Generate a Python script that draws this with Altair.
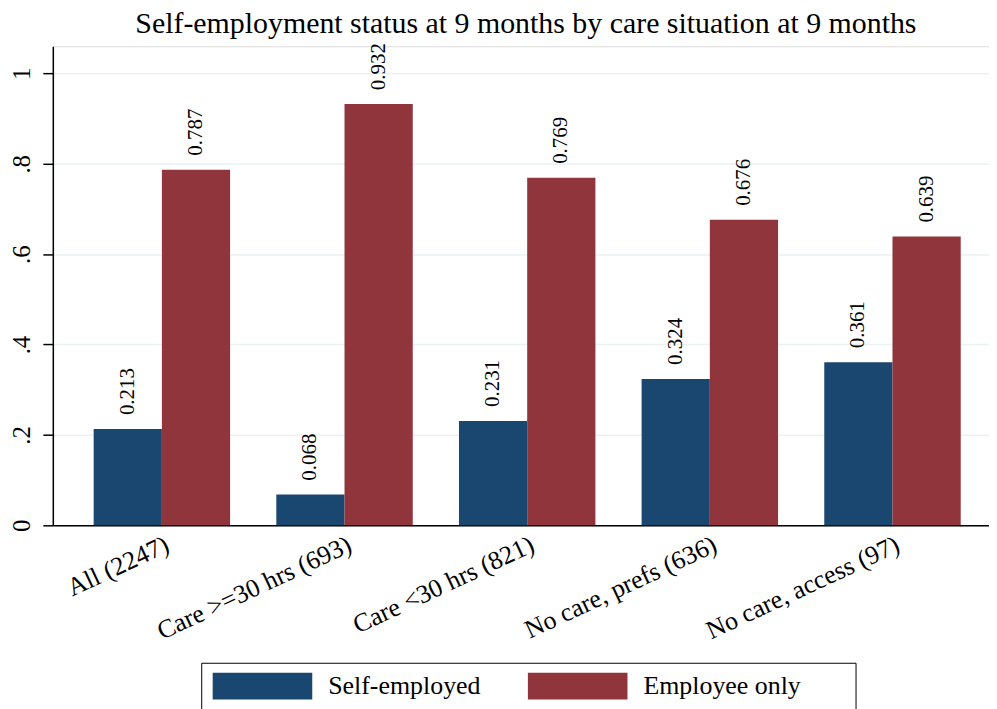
import altair as alt
import pandas as pd

categories = ["All (2247)", "Care >=30 hrs (693)", "Care <30 hrs (821)",
              "No care, prefs (636)", "No care, access (97)"]
series = ["Self-employed", "Employee only"]
self_employed = [0.213, 0.068, 0.231, 0.324, 0.361]
employee_only = [0.787, 0.932, 0.769, 0.676, 0.639]
y_ticks = [0, 0.2, 0.4, 0.6, 0.8, 1]
colors = ["#1a476f", "#90353b"]
title_text = "Self-employment status at 9 months by care situation at 9 months"

rows = []
for i, c in enumerate(categories):
    rows.append({"group": c, "series": series[0], "value": self_employed[i]})
    rows.append({"group": c, "series": series[1], "value": employee_only[i]})
df = pd.DataFrame(rows)

FONT = "Liberation Serif, Times New Roman, Times, serif"

x = alt.X("group:N", sort=categories, title=None,
          scale=alt.Scale(range=[0, 952.6], paddingInner=0.253, paddingOuter=0.2236),
          axis=alt.Axis(labelAngle=335, labelAlign="right", labelBaseline="top",
                        labelFontSize=26, labelFont=FONT, labelColor="black",
                        ticks=False, labelPadding=6, domainColor="black",
                        domainWidth=1.5, grid=False, labelLimit=400))
xo = alt.XOffset("series:N", sort=series,
                 scale=alt.Scale(paddingInner=0, paddingOuter=0))
y = alt.Y("value:Q", title=None,
          scale=alt.Scale(domain=[0, 1.06], nice=False),
          axis=alt.Axis(values=y_ticks,
                        labelExpr="replace(format(datum.value, '.1~f'), '0.', '.')",
                        labelAngle=270, labelAlign="center", labelBaseline="alphabetic",
                        labelPadding=13, tickSize=10, tickWidth=1.5, tickColor="black",
                        domainColor="black", domainWidth=1.5,
                        gridColor="#eaf2f3", gridWidth=1.5,
                        labelFontSize=25, labelFont=FONT, labelColor="black"))

sym = "M-0.8889,-1L6.5185,-1L6.5185,1L-0.8889,1Z"
color = alt.Color("series:N", sort=series,
                  scale=alt.Scale(domain=series, range=colors),
                  legend=alt.Legend(title=" ", titleOrient="right", titlePadding=45,
                                    titleFontSize=26, titleFont=FONT,
                                    orient="none", legendX=149, legendY=619,
                                    direction="horizontal", strokeColor="black",
                                    padding=10, symbolType=sym, symbolSize=729,
                                    symbolStrokeWidth=0, labelFontSize=26,
                                    labelFont=FONT, labelColor="black",
                                    labelOffset=90.5, columnPadding=45.5,
                                    symbolOpacity=1, labelLimit=400))

base = alt.Chart(df).encode(x=x, xOffset=xo, y=y)
bars = base.mark_bar().encode(color=color)
labels = base.mark_text(angle=270, align="left", baseline="middle", dx=14,
                        fontSize=21, font=FONT, color="black").encode(
    text=alt.Text("value:Q", format=".3f"))

chart = alt.layer(bars, labels).properties(
    width=940, height=481,
    title=alt.TitleParams(title_text, fontSize=30, font=FONT, fontWeight="normal",
                          color="black", anchor="middle", baseline="alphabetic",
                          frame="group", offset=12, dx=5, dy=32),
    autosize=alt.AutoSizeParams(type="none"),
    padding={"left": 45, "top": 37, "right": 0, "bottom": 183},
).configure_view(stroke=None).configure(background="white")

chart.save("out.html", embed_options={"renderer": "svg", "actions": False})
